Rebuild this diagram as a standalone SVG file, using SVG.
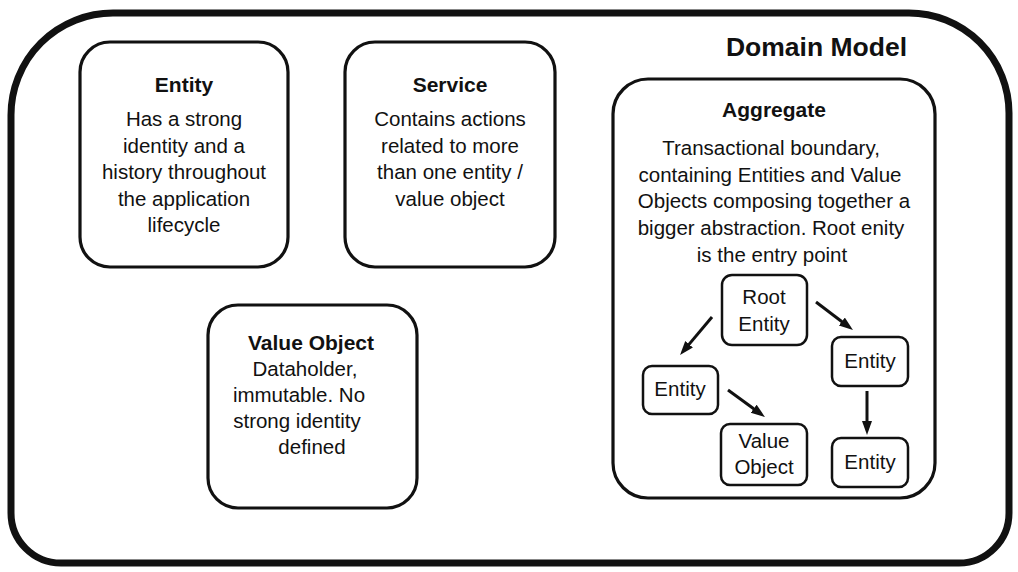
<svg xmlns="http://www.w3.org/2000/svg" width="1018" height="572" viewBox="0 0 1018 572">
<style>
.box{fill:#fff;stroke:#111;stroke-width:3.2}
.ibox{fill:#fff;stroke:#111;stroke-width:2.5}
.t{font-family:"Liberation Sans",Arial,sans-serif;font-weight:bold;font-size:21px;fill:#111;text-anchor:middle}
.b{font-family:"Liberation Sans",Arial,sans-serif;font-size:20.5px;fill:#111;text-anchor:middle}
.i{font-family:"Liberation Sans",Arial,sans-serif;font-size:20.5px;fill:#111;text-anchor:middle}
.c{stroke:#111;stroke-width:3;fill:none;marker-end:url(#ah)}
</style>
<defs>
<marker id="ah" markerUnits="userSpaceOnUse" markerWidth="16" markerHeight="12" refX="6" refY="5" orient="auto">
<path d="M0,0 L14,5 L0,10 Z" fill="#111"/>
</marker>
</defs>
<rect width="1018" height="572" fill="#fff"/>
<g id="domain-model">
<path d="M 113 13 H 909 A 100 100 0 0 1 1009 113 V 513 A 50 50 0 0 1 959 563 H 61 A 50 50 0 0 1 11 513 V 115 A 102 102 0 0 1 113 13 Z" fill="none" stroke="#111" stroke-width="7"/>
<text x="907" y="56" font-family="Liberation Sans, Arial, sans-serif" font-weight="bold" font-size="26.5" fill="#111" text-anchor="end">Domain Model</text>
</g>
<g id="entity">
<rect class="box" x="80" y="42" width="208" height="225" rx="30"/>
<text class="t" x="184" y="92">Entity</text>
<text class="b" x="184" y="126">Has a strong</text>
<text class="b" x="184" y="152.5">identity and a</text>
<text class="b" x="184" y="179">history throughout</text>
<text class="b" x="184" y="205.5">the application</text>
<text class="b" x="184" y="232">lifecycle</text>
</g>
<g id="service">
<rect class="box" x="345" y="42" width="210" height="225" rx="30"/>
<text class="t" x="450" y="92">Service</text>
<text class="b" x="450" y="126">Contains actions</text>
<text class="b" x="450" y="152.5">related to more</text>
<text class="b" x="450" y="179">than one entity /</text>
<text class="b" x="450" y="205.5">value object</text>
</g>
<g id="value-object">
<rect class="box" x="208" y="305" width="209" height="203" rx="30"/>
<text class="t" x="311" y="350">Value Object</text>
<text class="b" x="305" y="376">Dataholder,</text>
<text class="b" x="299" y="402">immutable. No</text>
<text class="b" x="297" y="428">strong identity</text>
<text class="b" x="312" y="454">defined</text>
</g>
<g id="aggregate">
<rect class="box" x="613" y="79" width="322" height="419" rx="35"/>
<text class="t" x="774" y="117">Aggregate</text>
<text class="b" x="771" y="155">Transactional boundary,</text>
<text class="b" x="770" y="182">containing Entities and Value</text>
<text class="b" x="774" y="208">Objects composing together a</text>
<text class="b" x="771" y="235">bigger abstraction. Root enity</text>
<text class="b" x="772" y="262">is the entry point</text>
</g>
<g id="root-entity">
<rect class="ibox" x="722" y="275" width="85" height="70" rx="10"/>
<text class="i" x="764" y="304">Root</text>
<text class="i" x="764" y="331">Entity</text>
</g>
<g id="entity-right">
<rect class="ibox" x="832" y="337" width="76" height="49" rx="9"/>
<text class="i" x="870" y="368">Entity</text>
</g>
<g id="entity-left">
<rect class="ibox" x="643" y="366" width="75" height="48" rx="9"/>
<text class="i" x="680" y="396">Entity</text>
</g>
<g id="value-object-inner">
<rect class="ibox" x="721" y="424" width="86" height="61" rx="9"/>
<text class="i" x="764" y="448">Value</text>
<text class="i" x="764" y="474">Object</text>
</g>
<g id="entity-bottom">
<rect class="ibox" x="832" y="438" width="76" height="49" rx="9"/>
<text class="i" x="870" y="469">Entity</text>
</g>
<g id="connectors">
<line class="c" x1="712" y1="317" x2="685.2" y2="348.9"/>
<line class="c" x1="816" y1="302" x2="846.6" y2="325.2"/>
<line class="c" x1="728" y1="390" x2="758.5" y2="412.3"/>
<line class="c" x1="867" y1="391" x2="867" y2="427"/>
</g>
</svg>
